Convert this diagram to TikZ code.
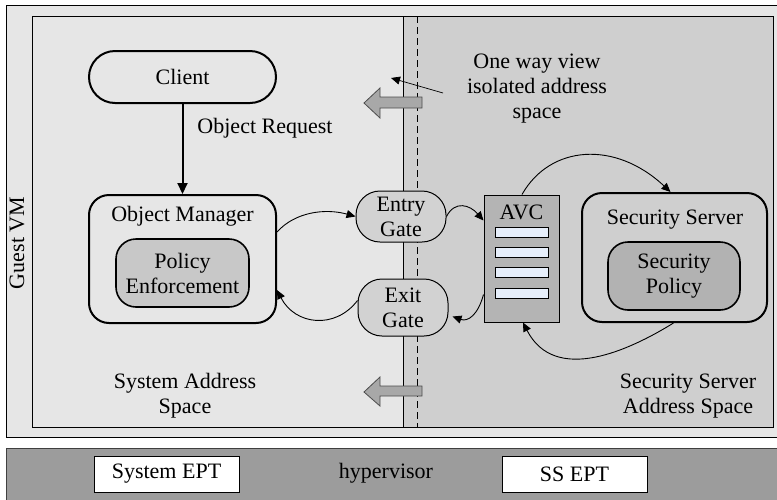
\documentclass[tikz,border=0pt]{standalone}
\usepackage{fontspec}
\setmainfont{Liberation Serif}
\usetikzlibrary{arrows.meta,calc}
\definecolor{vmbg}{HTML}{E6E6E6}
\definecolor{ssbg}{HTML}{CFCFCF}
\definecolor{hvbg}{HTML}{9C9C9C}
\definecolor{gatebg}{HTML}{D2D2D2}
\definecolor{avcbg}{HTML}{B4B4B4}
\definecolor{polbg}{HTML}{C8C8C8}
\definecolor{secbg}{HTML}{B2B2B2}
\definecolor{slotbg}{HTML}{E6EEFA}
\definecolor{blockbg}{HTML}{A8A8A8}
\tikzset{
  txt/.style={font=\fontsize{22}{25}\selectfont, inner sep=0pt, align=center},
  bigbox/.style={draw, line width=2pt, rounded corners=20pt, inner sep=0pt},
  innerbox/.style={draw, line width=1.6pt, rounded corners=20pt, inner sep=0pt,
    txt, minimum width=133pt, minimum height=68pt},
  gate/.style={draw, line width=1pt, fill=gatebg, rounded corners=24pt, inner sep=0pt,
    txt, minimum width=90pt},
  slot/.style={draw, line width=1pt, fill=slotbg, minimum width=53pt, minimum height=10pt, inner sep=0pt},
  eptbox/.style={draw, line width=1pt, fill=white, minimum width=145pt, minimum height=36pt,
    inner sep=0pt, txt},
  flow/.style={line width=0.9pt, -{Triangle[length=9pt,width=8pt]}},
  blockarrow/.style={draw=black!70, line width=0.8pt, fill=blockbg},
}
\begin{document}
\begin{tikzpicture}[x=1pt,y=-1pt]
\useasboundingbox (0,0) rectangle (777,499);

% guest VM frame and the two address spaces
\draw[line width=1pt, fill=vmbg] (6,5) rectangle (790,437);
\draw[line width=1pt, fill=vmbg] (32,16) rectangle (403,427);
\draw[line width=1pt, fill=ssbg] (403,16) rectangle (773,427);
\draw[line width=0.7pt, dash pattern=on 7pt off 4pt] (417,16) -- (417,427);

% hypervisor bar
\draw[line width=1pt, draw=black!75, fill=hvbg] (6,448) rectangle (790,510);
\node[eptbox] (sysept) at (166.5,474) {System EPT};
\node[eptbox] (ssept) at (574.5,474) {SS EPT};
\node[txt] (hv) at (386,473) {hypervisor};

\node[txt, rotate=90] (guest) at (17,243) {Guest VM};

% system address space
\node[bigbox, rounded corners=26pt, minimum width=187pt, minimum height=52pt, txt] (client) at (182.5,77) {Client};
\node[bigbox, minimum width=187pt, minimum height=128pt] (om) at (182.5,259) {};
\node[txt] (omt) at (182.5,216) {Object Manager};
\node[innerbox, fill=polbg] (pe) at (182.5,273) {Policy\\Enforcement};
\node[txt] (req) at (265,128) {Object Request};
\node[txt] (sas) at (185,396) {System Address\\Space};

% gates
\node[gate, minimum height=51pt] (entry) at (401,216.5) {Entry\\Gate};
\node[gate, minimum height=57pt] (exit) at (403,307.5) {Exit\\Gate};

% security server address space
\node[draw, line width=1pt, fill=avcbg, minimum width=75pt, minimum height=127pt, inner sep=0pt] (avc) at (521.5,258.5) {};
\node[txt] (avct) at (521.5,212) {AVC};
\node[slot] (s1) at (521.5,232) {};
\node[slot] (s2) at (521.5,252.5) {};
\node[slot] (s3) at (521.5,272.5) {};
\node[slot] (s4) at (521.5,293.5) {};

\node[bigbox, minimum width=185pt, minimum height=129pt] (ss) at (674.5,257.5) {};
\node[txt] (sst) at (675,220) {Security Server};
\node[innerbox, fill=secbg, minimum width=132pt] (sp) at (674,276) {Security\\Policy};
\node[txt] (ssas) at (688,396) {Security Server\\Address Space};

\node[txt] (oneway) at (537,89) {One way view\\isolated address\\space};

% one-way view arrows
\draw[blockarrow] (422,97) -- (380,97) -- (380,88) -- (364,103) -- (380,118) -- (380,108) -- (422,108) -- cycle;
\draw[blockarrow] (422,386) -- (380,386) -- (380,377) -- (364,392) -- (380,406) -- (380,396) -- (422,396) -- cycle;
\coordinate (pointer) at (443,93);
\coordinate (wall) at (391,78);
\draw[line width=0.7pt, -{Triangle[length=9pt,width=8pt]}] (pointer) -- (wall);

% request flow
\draw[line width=2pt, -{Triangle[length=11pt,width=10pt]}] (client) -- (om);
\draw[flow] ([yshift=27pt]om.east) .. controls (295,212) and (325,208) .. (entry.west);
\draw[flow] (entry.east) .. controls (455,200) and (470,205) .. ([yshift=38pt]avc.west);
\draw[flow] ([xshift=0.5pt]avc.north) .. controls (550,145) and (615,140) .. ([xshift=-4pt]ss.north);
\draw[flow] ([xshift=-1pt]ss.south) .. controls (630,350) and (555,385) .. ([xshift=1.5pt]avc.south);
\draw[flow] ([yshift=-36pt]avc.west) .. controls (478,315) and (468,322) .. ([xshift=4pt,yshift=-9pt]exit.east);
\draw[flow] ([yshift=7pt]exit.west) .. controls (335,330) and (295,325) .. ([yshift=-31pt]om.east);
\end{tikzpicture}
\end{document}
